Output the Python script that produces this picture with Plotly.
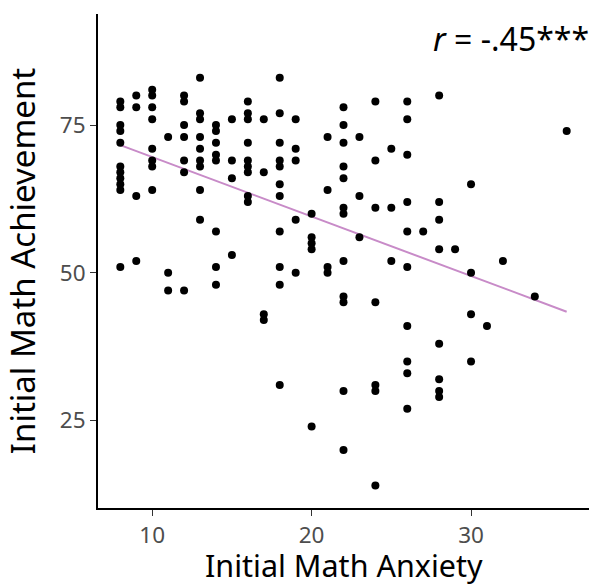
import numpy as np
import plotly.graph_objects as go

# Data (x = Initial Math Anxiety, y = Initial Math Achievement)
columns = {
    8: [79, 78, 75, 74, 72, 68, 67, 66, 65, 64, 51],
    9: [80, 78, 63, 52],
    10: [81, 80, 78, 76, 71, 69, 68, 64],
    11: [73, 50, 47],
    12: [80, 79, 75, 73, 69, 67, 47],
    13: [83, 77, 76, 73, 71, 69, 68, 64, 59],
    14: [75, 74, 72, 70, 69, 57, 51, 48],
    15: [76, 69, 66, 53],
    16: [79, 77, 76, 72, 69, 68, 67, 63, 62],
    17: [76, 67, 43, 42],
    18: [83, 77, 72, 69, 68, 65, 63, 57, 51, 48, 31],
    19: [76, 71, 69, 59, 50],
    20: [60, 56, 55, 54, 24],
    21: [73, 64, 51, 50],
    22: [78, 75, 72, 68, 66, 61, 60, 52, 46, 45, 30, 20],
    23: [73, 63, 56],
    24: [79, 69, 61, 45, 31, 30, 14],
    25: [71, 61, 52],
    26: [79, 76, 70, 62, 57, 51, 41, 35, 33, 27],
    27: [57],
    28: [80, 62, 59, 54, 38, 32, 30, 29],
    29: [54],
    30: [65, 50, 43, 35],
    31: [41],
    32: [52],
    34: [46],
    36: [74],
}
anxiety = [k for k, vals in columns.items() for _ in vals]
achievement = [v for vals in columns.values() for v in vals]

x_ticks = [10, 20, 30]
y_ticks = [25, 50, 75]
x_title = "Initial Math Anxiety"
y_title = "Initial Math Achievement"
annotation_text = "<i>r</i> = -.45***"

xa = np.array(anxiety, dtype=float)
ya = np.array(achievement, dtype=float)
slope, intercept = np.polyfit(xa, ya, 1)
fit_x = np.array([xa.min(), xa.max()])
fit_y = intercept + slope * fit_x

MARGIN_B, PLOT_H = 80, 588 - 14 - 80

fig = go.Figure()
fig.add_trace(go.Scatter(x=fit_x, y=fit_y, mode="lines",
                         line=dict(color="#C88BC8", width=2), hoverinfo="skip"))
fig.add_trace(go.Scatter(x=anxiety, y=achievement, mode="markers",
                         marker=dict(color="black", size=8)))

fig.add_annotation(x=32.5, y=89.6, xref="x", yref="y", text=annotation_text,
                   showarrow=False, font=dict(size=32, color="black", family="Noto Sans"))

# x-axis title as an annotation anchored to the bottom edge of the figure
fig.add_annotation(x=0.5, y=-MARGIN_B / PLOT_H, xref="paper", yref="paper", text=x_title,
                   showarrow=False, xanchor="center", yanchor="bottom",
                   font=dict(size=30.5, color="black", family="Noto Sans"))

axis_common = dict(showgrid=False, zeroline=False, showline=True, linecolor="black",
                   linewidth=1.8, ticks="outside", ticklen=6, tickwidth=1.3,
                   tickcolor="#333333", tickfont=dict(size=22.5, color="#4D4D4D"),
                   mirror=False, automargin=False)
fig.update_layout(
    width=589, height=588,
    margin=dict(l=98, r=0, t=14, b=MARGIN_B),
    paper_bgcolor="white", plot_bgcolor="white",
    showlegend=False,
    font=dict(family="Noto Sans", color="black"),
    xaxis=dict(range=[6.6, 37.4], tickvals=x_ticks, **axis_common),
    yaxis=dict(range=[10.2, 93.8], tickvals=y_ticks,
               title=dict(text=y_title, font=dict(size=33), standoff=16),
               **axis_common),
)
fig.write_html("out.html")
